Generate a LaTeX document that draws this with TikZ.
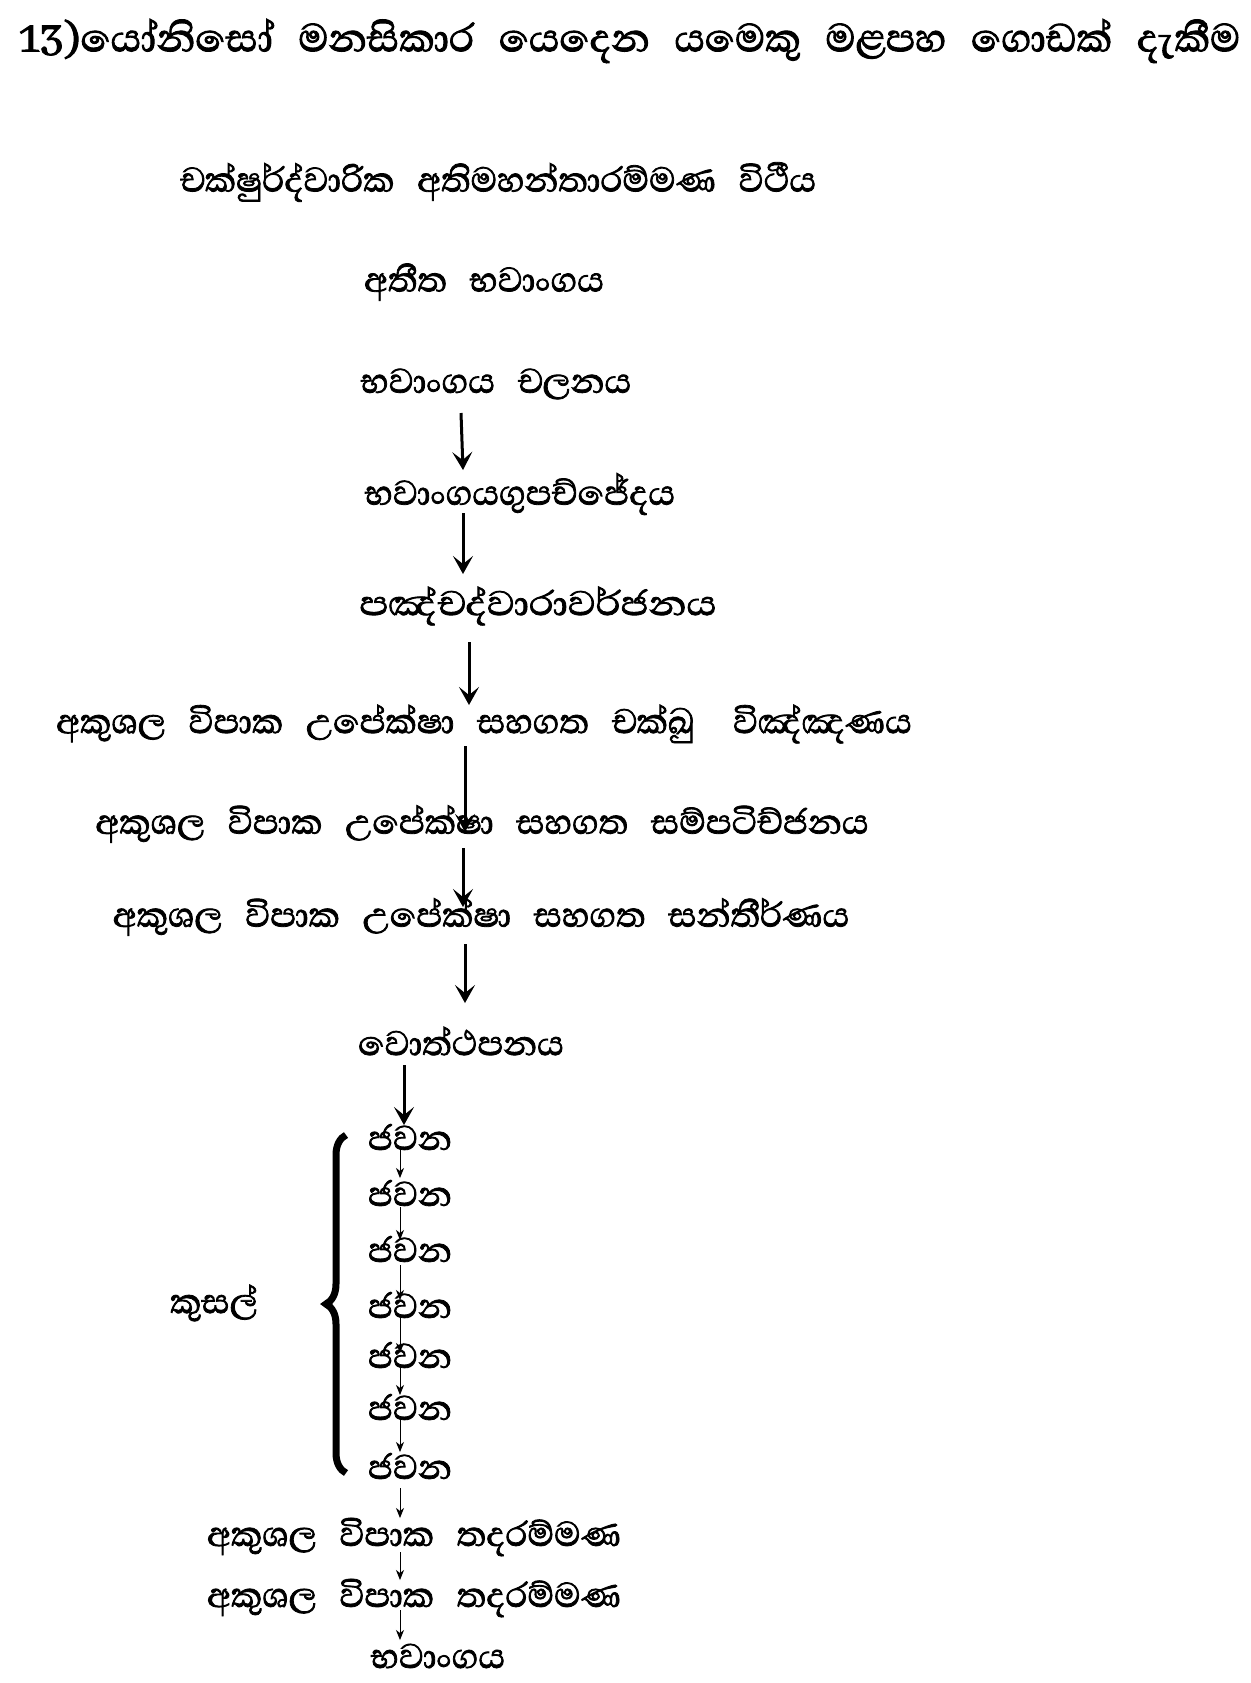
\documentclass[tikz,border=0pt]{standalone}
\usepackage{fontspec}
\usepackage{graphicx}
\setmainfont{Liberation Serif}
\newfontfamily\sinhalafnt[Script=Sinhala,FakeBold=1.8,WordSpace=2.7]{Abhaya Libre}
\newfontfamily\sinhalattl[Script=Sinhala,FakeBold=2,WordSpace=2.6]{Abhaya Libre}
\usetikzlibrary{arrows.meta,decorations.pathreplacing}
\begin{document}
\begin{tikzpicture}[x=0.5pt,y=-0.5pt,
  lbl/.style={inner sep=0pt,font=\sinhalafnt\fontsize{22}{26}\selectfont},
  ttl/.style={inner sep=0pt,font=\sinhalattl\fontsize{25}{29}\selectfont},
  big/.style={line width=1.5pt,-{Stealth[length=9pt,width=10pt,inset=4pt]}},
  thin/.style={line width=0.5pt,-{Stealth[length=5pt,width=4pt,inset=1.5pt]}}]
\useasboundingbox (0,0) rectangle (1251,1683);
\fill[white] (0,0) rectangle (1251,1683);
\node[ttl,anchor=west] (title) at (19,41) {13)යෝනිසෝ මනසිකාර යෙදෙන යමෙකු මළපහ ගොඩක් දැකීම};
\node[lbl] (vithi) at (498,182) {චක්ෂුර්ද්වාරික අතිමහන්තාරම්මණ විථීය};
\node[lbl] (atita) at (484,282) {අතීත භවාංගය};
\node[lbl] (chalana) at (496,384) {භවාංගය චලනය};
\node[lbl] (upac) at (520,494) {භවාංගයගුපච්ජේදය};
\node[lbl] (panca) at (538,606) {\scalebox{1.12}[1]{පඤ්චද්වාරාවර්ජනය}};
\node[lbl] (cakkhu) at (484,724) {අකුශල විපාක උපේක්ෂා සහගත චක්ඛු\hspace{8pt} විඤ්ඤණය};
\node[lbl] (sampat) at (482,824) {අකුශල විපාක උපේක්ෂා සහගත සම්පටිච්ජනය};
\node[lbl] (santir) at (481,917) {අකුශල විපාක උපේක්ෂා සහගත සන්තීර්ණය};
\node[lbl] (votth) at (461,1041) {වොත්ථපනය};
\node[lbl] (j1) at (410,1137) {ජවන};
\node[lbl] (j2) at (410,1193) {ජවන};
\node[lbl] (j3) at (410,1249) {ජවන};
\node[lbl] (j4) at (410,1305) {ජවන};
\node[lbl] (j5) at (410,1355) {ජවන};
\node[lbl] (j6) at (410,1407) {ජවන};
\node[lbl] (j7) at (410,1466) {ජවන};
\node[lbl] (kusal) at (214,1303) {කුසල්};
\node[lbl] (tad1) at (414,1537) {අකුශල විපාක තදරම්මණ};
\node[lbl] (tad2) at (414,1598) {අකුශල විපාක තදරම්මණ};
\node[lbl] (bhav) at (438,1656) {භවාංගය};
% big arrows
\draw[big] ([shift={(-35,29)}]chalana.center) -- ([shift={(-57,-24)}]upac.center);
\draw[big] ([shift={(-57,19)}]upac.center) -- ([shift={(-75,-32)}]panca.center);
\draw[big] ([shift={(-69,36)}]panca.center) -- ([shift={(-15,-19)}]cakkhu.center);
\draw[big] ([shift={(-19,22)}]cakkhu.center) -- ([shift={(-17,8)}]sampat.center);
\draw[big] ([shift={(-19,24)}]sampat.center) -- ([shift={(-18,-10)}]santir.center);
\draw[big] ([shift={(-16,27)}]santir.center) -- ([shift={(4,-38)}]votth.center);
\draw[big] ([shift={(-57,24)}]votth.center) -- ([shift={(-6,-12)}]j1.center);
% thin arrows
\draw[thin] ([shift={(-10,13)}]j1.center) -- ([shift={(-10,-15)}]j2.center);
\draw[thin] ([shift={(-10,14)}]j2.center) -- ([shift={(-10,-9)}]j3.center);
\draw[thin] ([shift={(-10,16)}]j3.center) -- ([shift={(-10,-5)}]j4.center);
\draw[thin] ([shift={(-10,13)}]j4.center) -- ([shift={(-10,-2)}]j5.center);
\draw[thin] ([shift={(-10,13)}]j5.center) -- ([shift={(-10,-12)}]j6.center);
\draw[thin] ([shift={(-10,13)}]j6.center) -- ([shift={(-10,-14)}]j7.center);
\draw[thin] ([shift={(-10,22)}]j7.center) -- ([shift={(-14,-19)}]tad1.center);
\draw[thin] ([shift={(-14,15)}]tad1.center) -- ([shift={(-14,-18)}]tad2.center);
\draw[thin] ([shift={(-14,12)}]tad2.center) -- ([shift={(-38,-16)}]bhav.center);
% brace
\draw[line width=3.5pt,decorate,decoration={brace,amplitude=10pt}] (346,1473) -- (346,1135);
\end{tikzpicture}
\end{document}
